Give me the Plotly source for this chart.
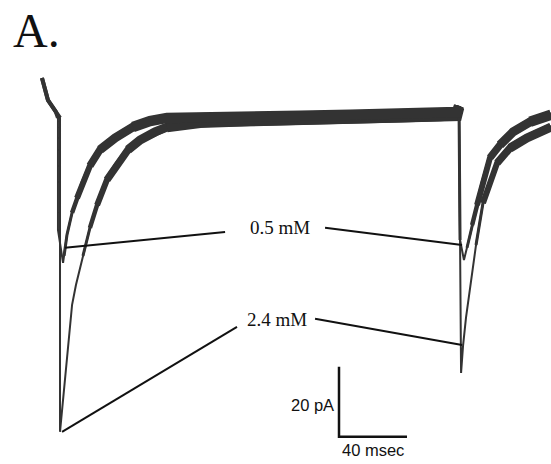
import plotly.graph_objects as go

# Time (ms) and current (pA) (40 ms, 20 pA)
t_05 = [-10.6, -8.8, -7.1, -4.7, -2.4, -1.2, -1.2, 1.8, 2.4, 4.1, 7.1, 10.0, 13.5, 17.6, 23.5,
        32.4, 42.9, 52.9, 62.9, 82.4, 111.8, 141.2, 170.6, 200.0, 223.5, 233.5, 234.7, 235.3,
        237.6, 239.4, 242.4, 245.3, 248.8, 252.9, 258.8, 266.5, 276.5, 288.8]
i_05 = [11.4, 8.0, 5.1, 3.4, 1.7, 0.0, -32.0, -41.4, -39.4, -33.4, -27.1, -22.9, -18.3, -13.7, -9.1,
        -5.7, -2.6, -0.9, 0.0, 0.3, 0.3, 0.6, 0.9, 1.1, 1.7, 1.7, 3.4, -34.9,
        -40.6, -37.1, -30.6, -24.9, -18.3, -11.4, -7.7, -4.0, -1.1, 0.9]

t_24 = [-10.6, -8.8, -7.1, -4.7, -2.4, 0.0, 0.0, 1.2, 2.9, 4.1, 5.9, 7.1, 9.4, 11.8, 13.5,
        17.6, 21.8, 27.6, 33.5, 40.0, 47.1, 55.9, 62.9, 82.4, 111.8, 141.2, 170.6, 200.0,
        223.5, 233.5, 234.7, 235.9, 237.1, 238.8, 241.2, 244.7, 248.8, 252.9, 257.1, 264.7,
        274.7, 288.8]
i_24 = [11.4, 8.0, 5.1, 3.4, 1.7, 0.0, -89.7, -83.4, -73.4, -69.1, -59.1, -53.4, -47.7, -42.9, -39.4,
        -31.4, -24.9, -17.7, -13.4, -9.1, -6.3, -4.0, -2.6, -1.4, -0.9, -0.6, -0.3, 0.0,
        0.3, 0.6, 2.9, -72.9, -64.9, -57.1, -49.1, -36.3, -24.3, -18.3, -12.9, -8.6,
        -5.7, -2.6]

conc_labels = ["0.5 mM", "2.4 mM"]
# label positions (t, I) and leader line endpoints
label_pos = [(129.4, -31.4), (127.6, -57.7)]
leaders = [
    [((2.9, -37.1), (97.1, -32.6)), ((155.9, -31.4), (236.5, -36.3))],
    [((1.2, -89.7), (104.1, -59.7)), ((150.0, -57.4), (236.5, -64.9))],
]

scale_t0, scale_i0 = 164.1, -91.1
scale_dt, scale_di = 40, 20
scale_labels = ["20 pA", "40 msec"]
panel_label = "A."

TRACE = "#333333"
INK = "#111111"
fig = go.Figure()


def segments(ts, vals, thr, tmin):
    xs, ys = [], []
    prev = False
    for t, v in zip(ts, vals):
        ok = v > thr and t >= tmin
        if ok:
            xs.append(t); ys.append(v)
        elif prev:
            xs.append(None); ys.append(None)
        prev = ok
    return xs, ys


# (threshold, width, minimum time) tiers: noise makes slow parts look thicker
tiers = [(-40, 3.0, 0.5), (-32, 4.5, 0.5), (-25, 6.0, 0.5), (-18, 7.5, 0.5), (-10, 9.0, 0.5),
         (-4, 10.5, 0.5)]

for ts, vals in [(t_24, i_24), (t_05, i_05)]:
    fig.add_trace(go.Scatter(x=ts, y=vals, mode="lines",
                             line=dict(color=TRACE, width=2.0), hoverinfo="skip"))
    xs, ys = segments(ts, vals, -5, -20)
    fig.add_trace(go.Scatter(x=xs, y=ys, mode="lines",
                             line=dict(color=TRACE, width=4.0), hoverinfo="skip"))
    for thr, w, tmin in tiers:
        xs, ys = segments(ts, vals, thr, tmin)
        fig.add_trace(go.Scatter(x=xs, y=ys, mode="lines",
                                 line=dict(color=TRACE, width=w), hoverinfo="skip"))

for lab, pos, segs in zip(conc_labels, label_pos, leaders):
    for (a, b) in segs:
        fig.add_trace(go.Scatter(x=[a[0], b[0]], y=[a[1], b[1]], mode="lines",
                                 line=dict(color=INK, width=2), hoverinfo="skip"))
    fig.add_annotation(x=pos[0], y=pos[1], text=lab, showarrow=False,
                       font=dict(family="Liberation Serif", size=19, color=INK))

# scale bar
fig.add_trace(go.Scatter(x=[scale_t0, scale_t0, scale_t0 + scale_dt],
                         y=[scale_i0 + scale_di, scale_i0, scale_i0], mode="lines",
                         line=dict(color=INK, width=2.5), hoverinfo="skip"))
fig.add_annotation(x=scale_t0, y=scale_i0 + 9, text=scale_labels[0], showarrow=False,
                   xanchor="right", xshift=-3,
                   font=dict(family="Liberation Sans", size=16.5, color=INK))
fig.add_annotation(x=scale_t0 + scale_dt / 2, y=scale_i0, text=scale_labels[1], showarrow=False,
                   yanchor="top", yshift=-2,
                   font=dict(family="Liberation Sans", size=16.5, color=INK))

fig.add_annotation(xref="paper", yref="paper", x=11 / 551, y=1 - 30 / 464, text=panel_label,
                   showarrow=False, xanchor="left", yanchor="middle",
                   font=dict(family="Liberation Serif", size=48, color=INK))

fig.update_layout(width=551, height=464, margin=dict(l=0, r=0, t=0, b=0),
                  plot_bgcolor="white", paper_bgcolor="white", showlegend=False,
                  xaxis=dict(range=[-35.3, 288.8], visible=False, fixedrange=True),
                  yaxis=dict(range=[-98.9, 33.7], visible=False, fixedrange=True))

fig.write_html("out.html")
